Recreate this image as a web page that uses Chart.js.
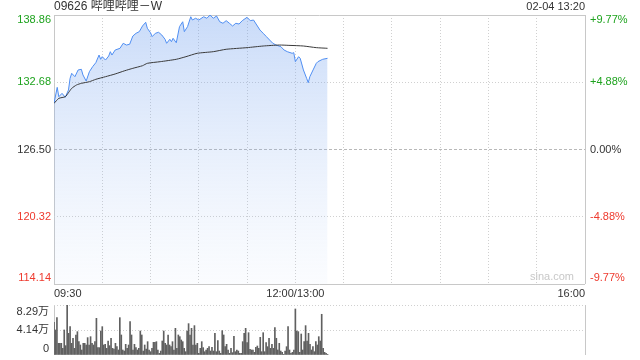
<!DOCTYPE html>
<html>
<head>
<meta charset="utf-8">
<script src="https://cdn.jsdelivr.net/npm/chart.js@4/dist/chart.umd.min.js"></script>
<style>
  html, body { margin: 0; padding: 0; background: #fff; }
  #wrap { position: relative; width: 640px; height: 360px; }
  #price { position: absolute; left: 0; top: 0; }
  #vol { position: absolute; left: 0; top: 300px; }
</style>
</head>
<body>
<div id="wrap">
  <canvas id="price" width="640" height="300"></canvas>
  <canvas id="vol" width="640" height="60"></canvas>
</div>
<script>
const TITLE = '09626 哔哩哔哩－W';
const STAMP = '02-04 13:20';
const PREV_CLOSE = 126.50;
const PRICE_TICKS = [114.14, 120.32, 126.50, 132.68, 138.86];
// minutes after 09:30, lunch break folded out (12:00 == 13:00 == 150)
const TIME_TICKS = [0, 30, 60, 90, 120, 150, 180, 210, 240, 270, 300, 330];
const TIME_LABELS = { 0: '09:30', 150: '12:00/13:00', 330: '16:00' };

const priceMinutes = [0, 2, 3, 5, 7, 9, 10, 11, 13, 15, 17, 18, 20, 22, 24, 26, 28, 29, 30, 32,
  34, 35, 36, 38, 41, 43, 45, 47, 49, 51, 53, 55, 57, 58, 60, 61, 63, 65, 67, 69,
  70, 72, 73, 74, 76, 78, 80, 81, 83, 85, 86, 88, 90, 93, 95, 97, 99, 101, 103, 105,
  107, 109, 111, 113, 115, 117, 120, 122, 124, 126, 128, 130, 132, 134, 136, 138, 141, 143, 145, 148,
  149, 150, 152, 153, 155, 157, 158, 159, 161, 163, 164, 166, 167, 170];
const priceValues = [130.74, 132.21, 131.35, 131.66, 131.30, 131.97, 133.04, 133.50, 133.19, 133.81,
  133.87, 133.35, 132.79, 133.65, 134.11, 134.48, 135.18, 134.79, 135.03, 134.72,
  135.09, 135.49, 135.18, 135.64, 135.80, 136.26, 136.10, 136.17, 136.93, 137.18,
  137.33, 137.85, 138.19, 137.64, 137.23, 136.87, 137.18, 137.27, 137.02, 136.63,
  136.26, 136.63, 136.41, 136.72, 136.31, 137.79, 138.24, 137.33, 137.79, 138.70,
  138.40, 138.56, 138.40, 138.70, 138.56, 138.86, 138.56, 138.77, 138.24, 138.10,
  138.34, 138.10, 137.85, 138.10, 138.03, 138.34, 138.65, 138.34, 138.40, 137.94,
  137.48, 137.18, 136.87, 136.56, 136.26, 136.10, 135.95, 135.64, 135.49, 135.34,
  135.40, 134.57, 135.03, 134.88, 133.81, 133.04, 132.64, 133.19, 133.81, 134.42,
  134.57, 134.72, 134.79, 134.88];

const avgMinutes = [0, 3, 7, 9, 11, 14, 17, 22, 26, 32, 38, 44, 49, 55, 58, 66, 76, 82, 89, 99,
  107, 120, 130, 140, 146, 155, 163, 170];
const avgValues = [130.74, 131.20, 131.35, 131.72, 132.12, 132.43, 132.58, 132.73, 132.95, 133.19,
  133.44, 133.74, 133.96, 134.20, 134.42, 134.57, 134.79, 135.03, 135.34, 135.49,
  135.71, 135.86, 136.01, 136.10, 136.07, 136.01, 135.86, 135.80];

const VOL_TICKS = [0, 4.14, 8.29];
const VOL_TICK_LABELS = ['0', '4.14万', '8.29万'];
const VOL_LAST_MINUTE = 170;
// volume per tick, in 万 shares
const volumes = [5.42, 4.15, 6.19, 1.94, 1.94, 1.94, 1.11, 4.15, 1.55, 8.29, 3.59, 4.70, 1.94, 2.77, 1.11, 3.32,
  3.87, 2.21, 1.66, 0.83, 1.94, 1.94, 1.66, 2.88, 1.66, 3.04, 1.94, 1.66, 2.21, 6.08, 1.22, 1.22,
  3.98, 4.70, 1.66, 1.77, 1.11, 2.32, 1.55, 2.77, 1.11, 1.00, 1.94, 1.38, 0.83, 6.19, 3.32, 0.83,
  0.66, 1.77, 1.11, 1.66, 5.53, 3.32, 0.83, 1.77, 1.22, 0.83, 1.11, 3.98, 3.32, 0.66, 1.66, 1.00,
  2.21, 0.83, 0.55, 1.11, 2.10, 2.10, 2.21, 0.83, 0.28, 0.66, 2.32, 3.98, 1.94, 1.66, 3.32, 1.66,
  1.38, 2.21, 0.83, 4.42, 1.11, 3.32, 3.04, 2.49, 2.21, 1.11, 0.55, 3.98, 5.20, 3.32, 4.42,
  1.66, 4.87, 1.66, 1.94, 0.28, 1.11, 2.21, 1.22, 0.55, 0.83, 1.11, 1.38, 0.66, 1.27, 0.66, 3.59,
  0.55, 2.38, 0.66, 0.28, 4.04, 3.32, 1.38, 1.77, 0.83, 0.28, 1.11, 0.39, 3.10, 0.55, 0.83, 0.66,
  0.28, 0.28, 2.21, 3.59, 4.42, 2.05, 3.70, 0.94, 0.83, 0.83, 0.44, 1.27, 1.49, 1.11, 2.93, 0.55,
  3.70, 0.55, 2.05, 1.38, 2.77, 1.11, 1.77, 1.11, 4.53, 2.77, 0.83, 1.94, 0.66, 0.44, 0.11, 0.66,
  1.38, 4.70, 0.83, 0.28, 0.44, 0.83, 7.63, 3.98, 3.87, 0.44, 3.48, 0.83, 2.21, 4.87, 2.32, 3.59,
  1.77, 0.83, 1.38, 0.55, 2.21, 1.66, 3.04, 2.32, 6.75, 1.11, 0.44, 0.28, 0.11];

const FONT = '"Liberation Sans", Arial, "Noto Sans CJK SC", sans-serif';
const GREEN = '#1ea31e';
const RED = '#ee3a2e';
const DARK = '#333333';
const GRID = '#d0d0d0';
const FRAME = '#c8c8c8';

function tickColor(v) {
  if (v > PREV_CLOSE + 1e-6) return GREEN;
  if (v < PREV_CLOSE - 1e-6) return RED;
  return DARK;
}

// sina cuts the percentage, it does not round it
function pctLabel(v) {
  const pct = (v - PREV_CLOSE) / PREV_CLOSE * 100;
  const cut = Math.trunc(Math.round(pct * 10000) / 100) / 100;
  if (cut === 0) return '0.00%';
  return (cut > 0 ? '+' : '') + cut.toFixed(2) + '%';
}

const setTicks = values => scale => { scale.ticks = values.map(v => ({ value: v })); };

const priceText = {
  id: 'priceText',
  afterDraw(chart) {
    const { ctx, chartArea: a, scales: { x, y } } = chart;
    ctx.save();
    ctx.textBaseline = 'middle';
    ctx.fillStyle = DARK;
    ctx.font = '12px ' + FONT;
    ctx.textAlign = 'left';
    ctx.fillText(TITLE, a.left, 7);
    ctx.font = '11px ' + FONT;
    ctx.textAlign = 'right';
    ctx.fillText(STAMP, a.right, 7);

    PRICE_TICKS.forEach((v, i) => {
      let py = y.getPixelForValue(v);
      if (i === 0) py -= 6;
      if (i === PRICE_TICKS.length - 1) py += 5;
      ctx.fillStyle = tickColor(v);
      ctx.textAlign = 'right';
      ctx.fillText(v.toFixed(2), a.left - 3, py);
      ctx.textAlign = 'left';
      ctx.fillText(pctLabel(v), a.right + 5, py);
    });

    ctx.fillStyle = DARK;
    Object.keys(TIME_LABELS).forEach(k => {
      const m = Number(k);
      ctx.textAlign = m === 0 ? 'left' : (m === 330 ? 'right' : 'center');
      ctx.fillText(TIME_LABELS[k], x.getPixelForValue(m), a.bottom + 10);
    });

    ctx.fillStyle = '#c8c8c8';
    ctx.textAlign = 'right';
    ctx.fillText('sina.com', a.right - 11, a.bottom - 7);
    ctx.restore();
  }
};

new Chart(document.getElementById('price').getContext('2d'), {
  type: 'line',
  data: {
    datasets: [{
      label: 'price',
      data: priceMinutes.map((m, i) => ({ x: m, y: priceValues[i] })),
      borderColor: '#4f8ef2',
      borderWidth: 1,
      pointRadius: 0,
      tension: 0,
      fill: 'start',
      backgroundColor: ctx => {
        const a = ctx.chart.chartArea;
        if (!a) return 'rgba(110,160,240,0.3)';
        const g = ctx.chart.ctx.createLinearGradient(0, a.top, 0, a.bottom);
        g.addColorStop(0, 'rgba(105,155,238,0.36)');
        g.addColorStop(1, 'rgba(180,205,245,0.06)');
        return g;
      },
      order: 2
    }, {
      label: 'avg',
      data: avgMinutes.map((m, i) => ({ x: m, y: avgValues[i] })),
      borderColor: '#3a3a3a',
      borderWidth: 1,
      pointRadius: 0,
      tension: 0.2,
      fill: false,
      order: 1
    }]
  },
  options: {
    responsive: false,
    animation: false,
    devicePixelRatio: 1,
    layout: { padding: { left: 54, right: 55, top: 15, bottom: 16 } },
    plugins: { legend: { display: false }, tooltip: { enabled: false } },
    scales: {
      x: {
        type: 'linear', min: 0, max: 330,
        afterBuildTicks: setTicks(TIME_TICKS),
        afterFit: s => { s.height = 0; },
        ticks: { display: false },
        grid: {
          drawTicks: false,
          color: c => (c.index === 0 || c.index === TIME_TICKS.length - 1) ? FRAME : GRID
        },
        border: {
          display: false,
          dash: c => (c.index === 0 || c.index === TIME_TICKS.length - 1) ? [] : [1, 2]
        }
      },
      y: {
        min: 114.14, max: 138.86,
        afterBuildTicks: setTicks(PRICE_TICKS),
        afterFit: s => { s.width = 0; },
        ticks: { display: false },
        grid: {
          drawTicks: false,
          color: c => {
            if (c.index === 0 || c.index === PRICE_TICKS.length - 1) return FRAME;
            return c.tick && Math.abs(c.tick.value - PREV_CLOSE) < 1e-6 ? '#b8b8b8' : GRID;
          }
        },
        border: {
          display: false,
          dash: c => {
            if (c.index === 0 || c.index === PRICE_TICKS.length - 1) return [];
            return c.tick && Math.abs(c.tick.value - PREV_CLOSE) < 1e-6 ? [3, 2] : [1, 2];
          }
        }
      }
    }
  },
  plugins: [priceText]
});

const volText = {
  id: 'volText',
  afterDraw(chart) {
    const { ctx, chartArea: a, scales: { y } } = chart;
    ctx.save();
    ctx.textBaseline = 'middle';
    ctx.textAlign = 'right';
    ctx.fillStyle = DARK;
    ctx.font = '11px ' + FONT;
    VOL_TICKS.forEach((v, i) => {
      let py = y.getPixelForValue(v);
      if (i === 0) py -= 6;
      if (i === VOL_TICKS.length - 1) py += 7;
      ctx.fillText(VOL_TICK_LABELS[i], a.left - 5, py);
    });
    ctx.restore();
  }
};

new Chart(document.getElementById('vol').getContext('2d'), {
  type: 'bar',
  data: {
    datasets: [{
      label: 'volume',
      data: volumes.map((v, i) => ({ x: i * VOL_LAST_MINUTE / (volumes.length - 1), y: v })),
      backgroundColor: '#606060',
      borderWidth: 0,
      barThickness: 1
    }]
  },
  options: {
    responsive: false,
    animation: false,
    devicePixelRatio: 1,
    layout: { padding: { left: 54, right: 55, top: 5, bottom: 5 } },
    plugins: { legend: { display: false }, tooltip: { enabled: false } },
    scales: {
      x: {
        type: 'linear', min: 0, max: 330, offset: false,
        afterBuildTicks: setTicks([0, 330]),
        afterFit: s => { s.height = 0; },
        ticks: { display: false },
        grid: { drawTicks: false, color: FRAME, offset: false },
        border: { display: false }
      },
      y: {
        min: 0, max: 8.29,
        afterBuildTicks: setTicks(VOL_TICKS),
        afterFit: s => { s.width = 0; },
        ticks: { display: false },
        grid: { drawTicks: false, color: c => c.index === 0 ? 'rgba(0,0,0,0)' : GRID },
        border: { display: false, dash: [1, 2] }
      }
    }
  },
  plugins: [volText]
});
</script>
</body>
</html>
